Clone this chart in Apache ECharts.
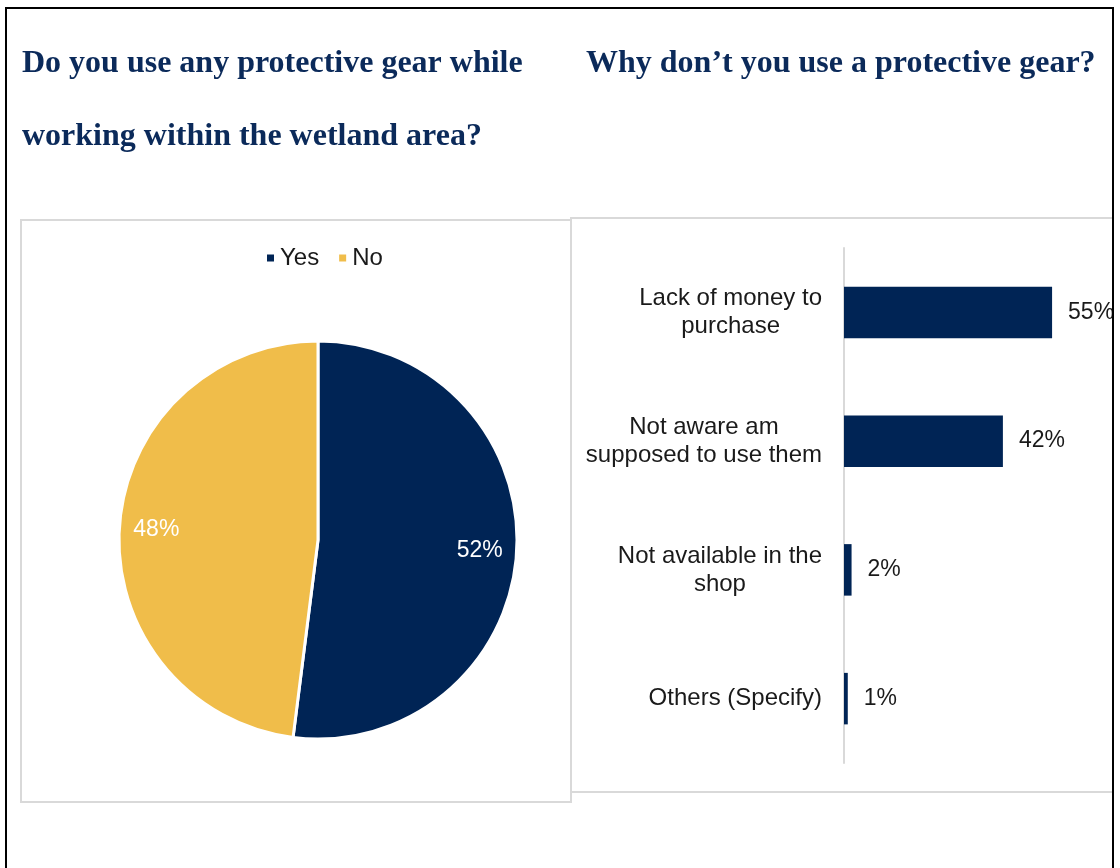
<!DOCTYPE html>
<html>
<head>
<meta charset="utf-8">
<title>Protective gear</title>
<script src="https://cdn.jsdelivr.net/npm/echarts@6/dist/echarts.min.js"></script>
<style>
  html, body { margin: 0; padding: 0; background: #fff; }
  #chart { width: 1120px; height: 868px; }
</style>
</head>
<body>
<div id="chart"></div>
<script>
// pie: do you use protective gear
var gearNames = ['Yes', 'No'];
var gearValues = [52, 48];
// bar: reasons for not using
var reasonNames = ['Lack of money to\npurchase', 'Not aware am\nsupposed to use them', 'Not available in the\nshop', 'Others (Specify)'];
var reasonValues = [55, 42, 2, 1];

var NAVY = '#002455';
var GOLD = '#F0BD4A';
var SANS = '"Liberation Sans", Arial, sans-serif';
var SERIF = '"Liberation Serif", "Times New Roman", serif';

var chart = echarts.init(document.getElementById('chart'), null, { renderer: 'canvas' });

var pieData = gearNames.map(function (n, i) {
	return { name: n, value: gearValues[i] };
});

chart.setOption({
	animation: false,
	title: [
		{
			text: 'Do you use any protective gear while\nworking within the wetland area?',
			left: 22,
			top: 27,
			padding: 0,
			textStyle: { fontFamily: SERIF, fontWeight: 'bold', fontSize: 32, color: '#0b2a5a', lineHeight: 73 }
		},
		{
			text: 'Why don\u2019t you use a protective gear?',
			left: 586,
			top: 27,
			padding: 0,
			textStyle: { fontFamily: SERIF, fontWeight: 'bold', fontSize: 32, color: '#0b2a5a', lineHeight: 73 }
		}
	],
	legend: {
		data: gearNames,
		left: 260,
		top: 241,
		icon: 'rect',
		itemWidth: 9,
		itemHeight: 9,
		itemGap: 18,
		textStyle: { fontFamily: SANS, fontSize: 24, color: '#1a1a1a', padding: [0, 0, 0, 0] }
	},
	color: [NAVY, GOLD],
	graphic: [
		{ type: 'rect', z: -10, shape: { x: 21, y: 220, width: 550, height: 582 }, style: { fill: 'none', stroke: '#d9d9d9', lineWidth: 2 } },
		{ type: 'rect', z: -10, shape: { x: 571, y: 218, width: 560, height: 574 }, style: { fill: 'none', stroke: '#d9d9d9', lineWidth: 2 } },
		{ type: 'rect', z: 100, shape: { x: 1114, y: 0, width: 10, height: 868 }, style: { fill: '#fff' } },
		{ type: 'rect', z: 101, shape: { x: 6, y: 8, width: 1107, height: 900 }, style: { fill: 'none', stroke: '#000', lineWidth: 2 } }
	],
	grid: {
		left: 844,
		top: 248,
		width: 227,
		height: 515
	},
	xAxis: {
		type: 'value',
		min: 0,
		max: 60,
		show: false
	},
	yAxis: {
		type: 'category',
		inverse: true,
		data: reasonNames,
		axisLine: { show: true, lineStyle: { color: '#d9d9d9', width: 2 } },
		axisTick: { show: false },
		axisLabel: {
			margin: 22,
			formatter: function (v) {
				return v.split('\n').map(function (l) { return '{c|' + l + '}'; }).join('\n');
			},
			rich: {
				c: { align: 'center', fontFamily: SANS, fontSize: 24, color: '#1a1a1a', lineHeight: 28 }
			}
		}
	},
	series: [
		{
			name: 'Protective gear',
			type: 'pie',
			center: [318, 540],
			radius: 199,
			startAngle: 90,
			data: pieData,
			itemStyle: { borderColor: '#fff', borderWidth: 3 },
			label: { show: false },
			labelLine: { show: false }
		},
		{
			// transparent ring just to put the percent labels at ~80% of radius
			name: 'Protective gear labels',
			type: 'pie',
			center: [318, 540],
			radius: [119, 199],
			startAngle: 90,
			silent: true,
			data: pieData,
			itemStyle: { color: 'rgba(0,0,0,0)' },
			label: {
				show: true,
				position: 'inside',
				formatter: '{c}%',
				fontFamily: SANS,
				fontSize: 23,
				color: '#fff'
			},
			labelLine: { show: false }
		},
		{
			name: 'Reasons',
			type: 'bar',
			data: reasonValues,
			barWidth: '40%',
			itemStyle: { color: NAVY },
			label: {
				show: true,
				position: 'right',
				distance: 16,
				formatter: '{c}%',
				fontFamily: SANS,
				fontSize: 23,
				color: '#1a1a1a'
			}
		}
	]
});
</script>
</body>
</html>
